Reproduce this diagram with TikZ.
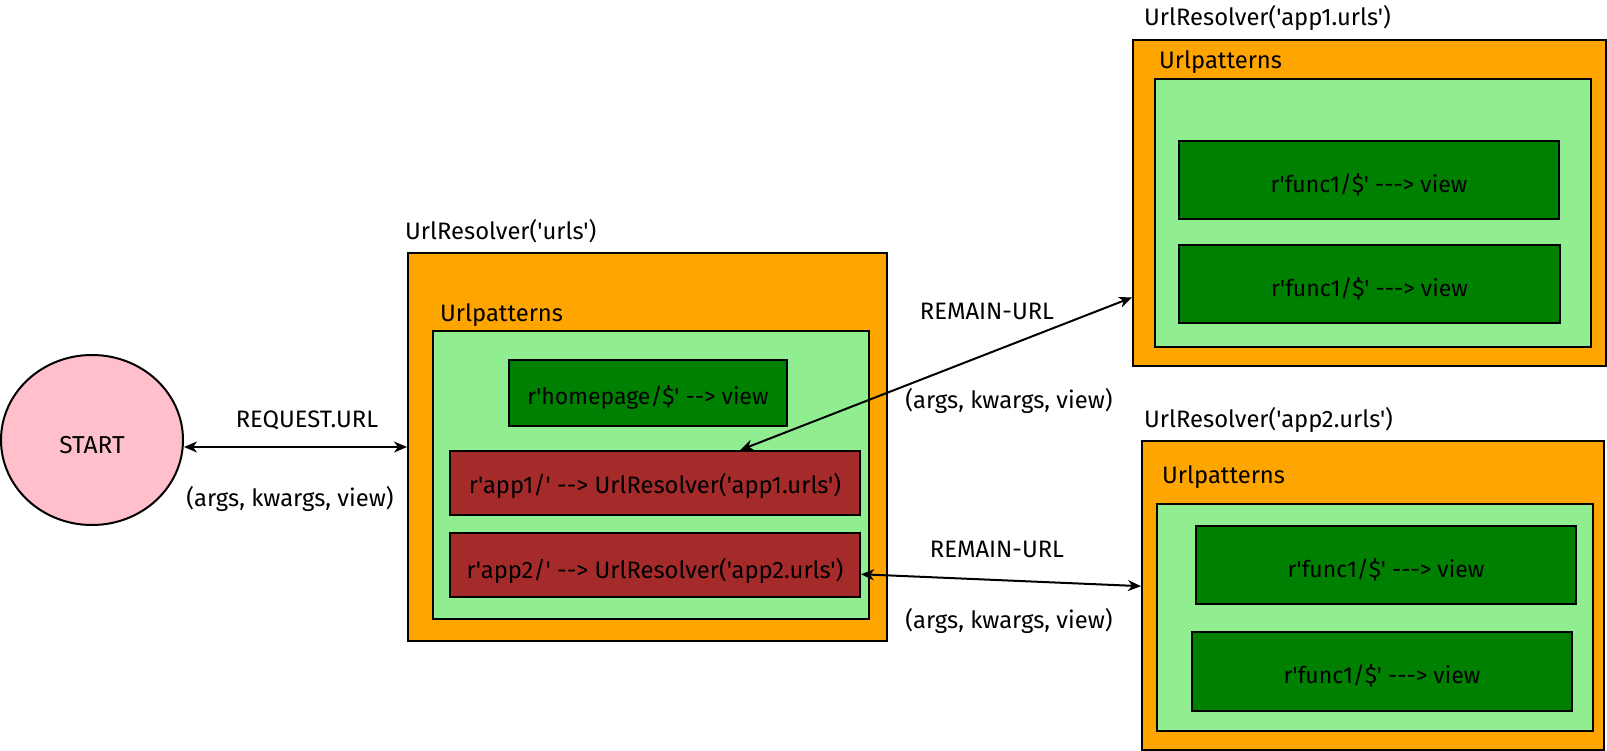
\documentclass[tikz,border=0pt]{standalone}
\usepackage{fontspec}
\setmainfont{Fira Sans}[Ligatures=TeXOff]
\usetikzlibrary{arrows.meta,calc,shapes.geometric}
\definecolor{cOrange}{HTML}{FFA500}
\definecolor{cLight}{HTML}{90EE90}
\definecolor{cGreen}{HTML}{008000}
\definecolor{cBrown}{HTML}{A52A2A}
\definecolor{cPink}{HTML}{FFC0CB}
\newcommand\lowr[2]{\raisebox{-#1}[\height][\depth]{#2}}
\tikzset{
  box/.style={draw=black, line width=2pt, inner sep=0pt, rectangle},
  outerbox/.style={box, fill=cOrange},
  innerbox/.style={box, fill=cLight},
  viewbox/.style={box, fill=cGreen, font=\fontsize{23}{27}\selectfont},
  resbox/.style={box, fill=cBrown, font=\fontsize{23.8}{28}\selectfont},
  lbl/.style={inner sep=0pt, font=\fontsize{23.8}{28}\selectfont},
  conn/.style={line width=2pt, {Stealth[length=13pt,width=11pt,inset=4pt]}-{Stealth[length=13pt,width=11pt,inset=4pt]}},
}
\begin{document}
\begin{tikzpicture}[x=1pt,y=-1pt]
\useasboundingbox (0,0) rectangle (1607,751);
% start
\node[draw=black, line width=2pt, fill=cPink, ellipse, minimum width=182pt, minimum height=170pt, inner sep=0pt, font=\fontsize{24.5}{28}\selectfont] (start) at (92,440) {\lowr{5pt}{START}};
% main resolver
\node[lbl, anchor=west] (urlsLbl) at (405,231) {UrlResolver('urls')};
\node[outerbox, minimum width=479pt, minimum height=388pt] (urlsOuter) at (647.5,447) {};
\node[lbl, anchor=west] (urlsPat) at (440,315) {Urlpatterns};
\node[innerbox, minimum width=436pt, minimum height=288pt] (urlsInner) at (651,475) {};
\node[viewbox, minimum width=278pt, minimum height=66pt] (home) at (648,393) {\lowr{4.5pt}{r'homepage/\$' --> view}};
\node[resbox, minimum width=410pt, minimum height=64pt] (app1) at (655,483) {\lowr{3pt}{r'app1/' --> UrlResolver('app1.urls')}};
\node[resbox, minimum width=410pt, minimum height=64pt] (app2) at (655,565) {\lowr{6pt}{r'app2/' --> UrlResolver('app2.urls')}};
% app1 resolver
\node[lbl, anchor=west] (a1Lbl) at (1144,18) {UrlResolver('app1.urls')};
\node[outerbox, minimum width=473pt, minimum height=326pt] (app1Outer) at (1369.5,203) {};
\node[lbl, anchor=west] (a1Pat) at (1159,62) {Urlpatterns};
\node[innerbox, minimum width=436pt, minimum height=268pt] (app1Inner) at (1373,213) {};
\node[viewbox, minimum width=380pt, minimum height=78pt] (f1a) at (1369,180) {\lowr{4.5pt}{r'func1/\$' ---> view}};
\node[viewbox, minimum width=381pt, minimum height=78pt] (f1b) at (1369.5,284) {\lowr{4.5pt}{r'func1/\$' ---> view}};
% app2 resolver
\node[lbl, anchor=west] (a2Lbl) at (1144,420) {UrlResolver('app2.urls')};
\node[outerbox, minimum width=462pt, minimum height=309pt] (app2Outer) at (1373,595.5) {};
\node[lbl, anchor=west] (a2Pat) at (1162,477) {Urlpatterns};
\node[innerbox, minimum width=436pt, minimum height=227pt] (app2Inner) at (1375,617.5) {};
\node[viewbox, minimum width=380pt, minimum height=78pt] (f2a) at (1386,565) {\lowr{4.5pt}{r'func1/\$' ---> view}};
\node[viewbox, minimum width=380pt, minimum height=79pt] (f2b) at (1382,671.5) {\lowr{4.5pt}{r'func1/\$' ---> view}};
% connectors
\draw[conn] (urlsOuter.west -| start.east) -- (urlsOuter.west);
\node[lbl] (req) at (307,420) {REQUEST.URL};
\node[lbl] (ret0) at (290,499) {(args, kwargs, view)};
\coordinate (a1top) at ($(app1.north west)!0.707!(app1.north east)$);
\coordinate (a1in) at ($(app1Outer.north west)!0.788!(app1Outer.south west)$);
\draw[conn] (a1top) -- (a1in);
\node[lbl] (rem1) at (987,311) {REMAIN-URL};
\node[lbl] (ret1) at (1009,401) {(args, kwargs, view)};
\coordinate (a2out) at ($(app2.north east)!0.64!(app2.south east)$);
\coordinate (a2in) at ($(app2Outer.north west)!0.47!(app2Outer.south west)$);
\draw[conn] (a2out) -- (a2in);
\node[lbl] (rem2) at (997,549) {REMAIN-URL};
\node[lbl] (ret2) at (1009,621) {(args, kwargs, view)};
\end{tikzpicture}
\end{document}
